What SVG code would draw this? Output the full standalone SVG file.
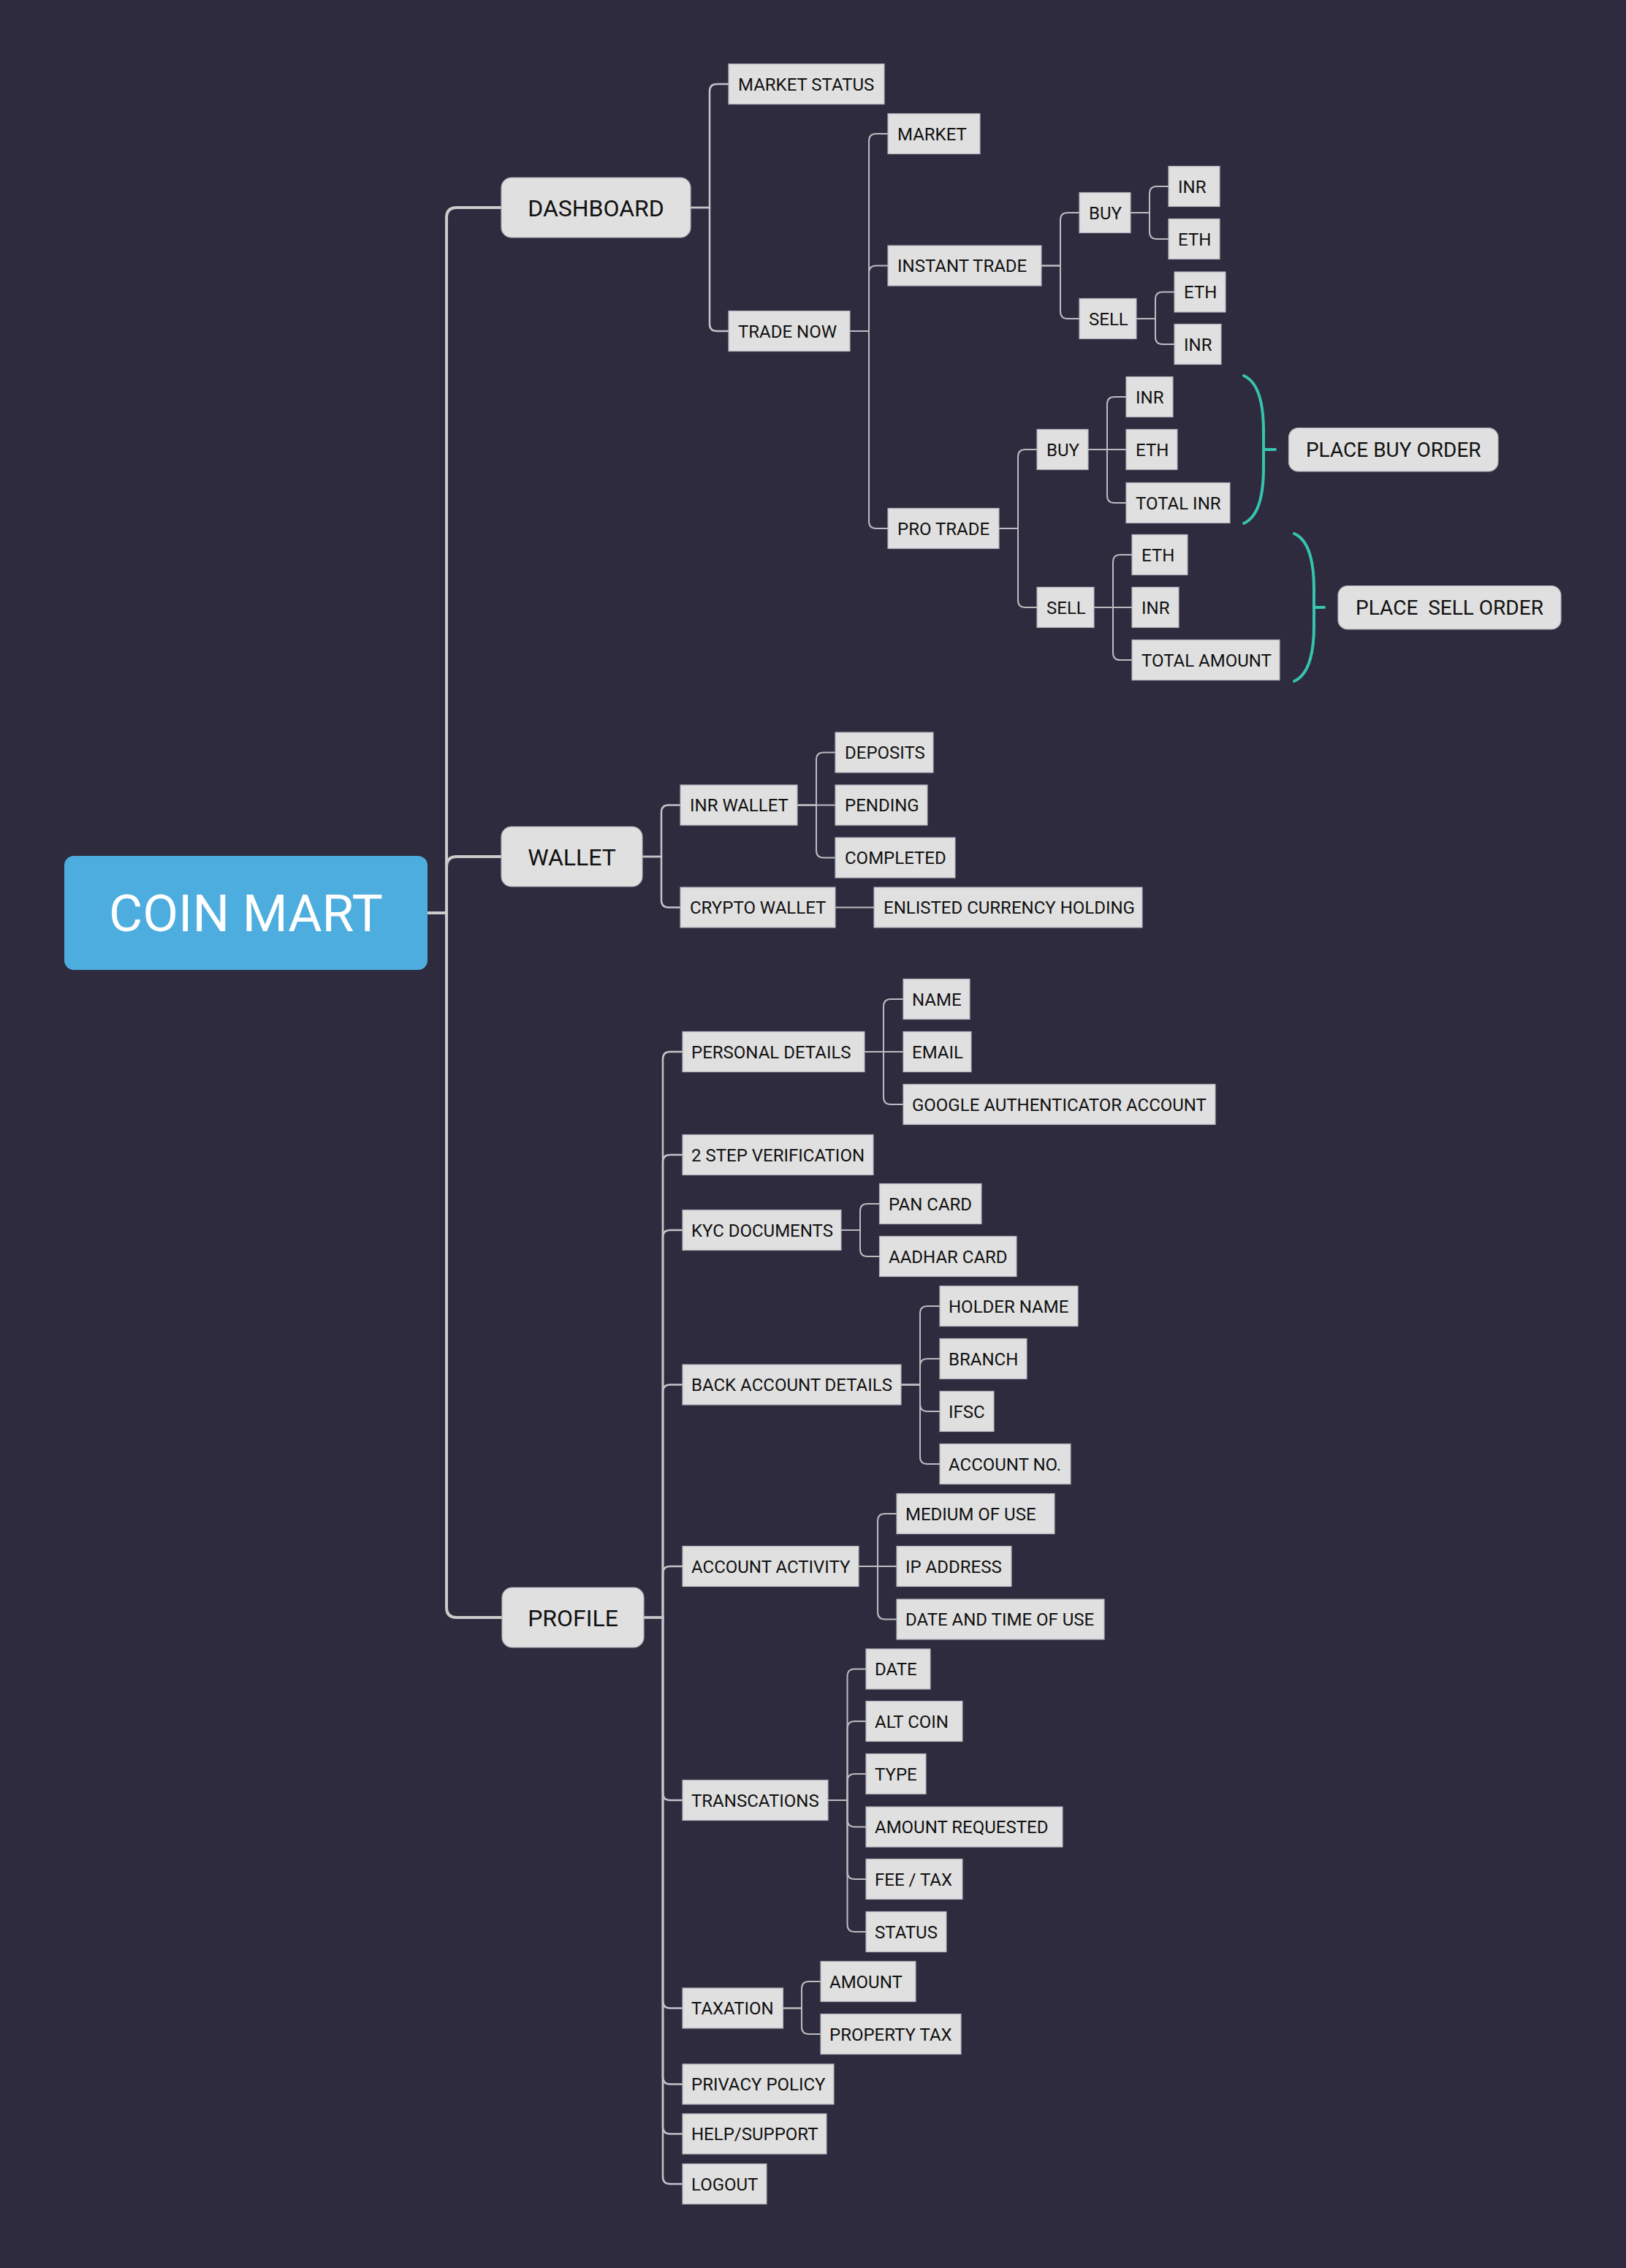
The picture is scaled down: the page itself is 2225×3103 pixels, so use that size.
<svg xmlns="http://www.w3.org/2000/svg" width="2225" height="3103" viewBox="0 0 2225 3103">
<style>
.bg{fill:#2e2b3e}
.root rect{fill:#4eaddf}
.root text{fill:#ffffff;font-family:Roboto,'Liberation Sans',sans-serif;font-size:71px;text-anchor:middle}
.main rect{fill:#e0e0e0;stroke:#b0b0ba;stroke-width:1.2}
.main text{fill:#111111;font-family:Roboto,'Liberation Sans',sans-serif;font-size:32px;text-anchor:middle}
.leaf rect{fill:#e0e0e0;stroke:#b0b0ba;stroke-width:1.2}
.leaf text{fill:#111111;font-family:Roboto,'Liberation Sans',sans-serif;font-size:24px}
.order rect{fill:#e0e0e0;stroke:#b0b0ba;stroke-width:1.2}
.order text{fill:#111111;font-family:Roboto,'Liberation Sans',sans-serif;font-size:28px;text-anchor:middle;white-space:pre}
.e0{fill:none;stroke:#cbcbcb;stroke-width:4}
.e1{fill:none;stroke:#c4c4c8;stroke-width:2.5}
.e2{fill:none;stroke:#bcbcc0;stroke-width:2}
.brace{fill:none;stroke:#36c4ae;stroke-width:4;stroke-linecap:round}
</style>
<rect class="bg" x="0" y="0" width="2225" height="3103"/>

<g id="connectors">
  <path class="e0" d="M585 1249 H611 V298 Q611 284 625 284 H686"/>
  <path class="e0" d="M585 1249 H611 V1186 Q611 1172 625 1172 H686"/>
  <path class="e0" d="M585 1249 H611 V2199 Q611 2213 625 2213 H687"/>

  <path class="e1" d="M945 284 H971 V125 Q971 115 981 115 H997"/>
  <path class="e1" d="M945 284 H971 V443 Q971 453 981 453 H997"/>

  <path class="e2" d="M1163 453 H1189 V193 Q1189 183 1199 183 H1215"/>
  <path class="e2" d="M1163 453 H1189 V373.5 Q1189 363.5 1199 363.5 H1215"/>
  <path class="e2" d="M1163 453 H1189 V713 Q1189 723 1199 723 H1215"/>

  <path class="e2" d="M1425 363.5 H1451 V301 Q1451 291 1461 291 H1477"/>
  <path class="e2" d="M1425 363.5 H1451 V426 Q1451 436 1461 436 H1477"/>
  <path class="e2" d="M1547 291 H1573 V265 Q1573 255 1583 255 H1599"/>
  <path class="e2" d="M1547 291 H1573 V317 Q1573 327 1583 327 H1599"/>
  <path class="e2" d="M1555 436 H1581 V409.5 Q1581 399.5 1591 399.5 H1607"/>
  <path class="e2" d="M1555 436 H1581 V461 Q1581 471 1591 471 H1607"/>

  <path class="e2" d="M1367 723 H1393 V625 Q1393 615 1403 615 H1419"/>
  <path class="e2" d="M1367 723 H1393 V821 Q1393 831 1403 831 H1419"/>
  <path class="e2" d="M1489 615 H1515 V553 Q1515 543 1525 543 H1541"/>
  <path class="e2" d="M1489 615 H1541"/>
  <path class="e2" d="M1489 615 H1515 V678 Q1515 688 1525 688 H1541"/>
  <path class="e2" d="M1497 831 H1523 V769 Q1523 759 1533 759 H1549"/>
  <path class="e2" d="M1497 831 H1549"/>
  <path class="e2" d="M1497 831 H1523 V893 Q1523 903 1533 903 H1549"/>

  <path class="e1" d="M879 1172 H905 V1111.5 Q905 1101.5 915 1101.5 H931"/>
  <path class="e1" d="M879 1172 H905 V1231.5 Q905 1241.5 915 1241.5 H931"/>
  <path class="e2" d="M1091 1101.5 H1117 V1039.5 Q1117 1029.5 1127 1029.5 H1143"/>
  <path class="e2" d="M1091 1101.5 H1143"/>
  <path class="e2" d="M1091 1101.5 H1117 V1163.5 Q1117 1173.5 1127 1173.5 H1143"/>
  <path class="e2" d="M1143 1241.5 H1196"/>

  <path class="e1" d="M881 2213 H907 V1449 Q907 1439 917 1439 H934"/>
  <path class="e1" d="M881 2213 H907 V1590 Q907 1580 917 1580 H934"/>
  <path class="e1" d="M881 2213 H907 V1693 Q907 1683 917 1683 H934"/>
  <path class="e1" d="M881 2213 H907 V1904.5 Q907 1894.5 917 1894.5 H934"/>
  <path class="e1" d="M881 2213 H907 V2153 Q907 2143 917 2143 H934"/>
  <path class="e1" d="M881 2213 H907 V2453 Q907 2463 917 2463 H934"/>
  <path class="e1" d="M881 2213 H907 V2737.5 Q907 2747.5 917 2747.5 H934"/>
  <path class="e1" d="M881 2213 H907 V2841.5 Q907 2851.5 917 2851.5 H934"/>
  <path class="e1" d="M881 2213 H907 V2909.5 Q907 2919.5 917 2919.5 H934"/>
  <path class="e1" d="M881 2213 H907 V2978 Q907 2988 917 2988 H934"/>

  <path class="e2" d="M1183 1439 H1209 V1377 Q1209 1367 1219 1367 H1236"/>
  <path class="e2" d="M1183 1439 H1236"/>
  <path class="e2" d="M1183 1439 H1209 V1501 Q1209 1511 1219 1511 H1236"/>

  <path class="e2" d="M1151 1683 H1177 V1657 Q1177 1647 1187 1647 H1203.5"/>
  <path class="e2" d="M1151 1683 H1177 V1709 Q1177 1719 1187 1719 H1203.5"/>

  <path class="e2" d="M1233 1894.5 H1259 V1797 Q1259 1787 1269 1787 H1286"/>
  <path class="e2" d="M1233 1894.5 H1259 V1869 Q1259 1859 1269 1859 H1286"/>
  <path class="e2" d="M1233 1894.5 H1259 V1921 Q1259 1931 1269 1931 H1286"/>
  <path class="e2" d="M1233 1894.5 H1259 V1993 Q1259 2003 1269 2003 H1286"/>

  <path class="e2" d="M1175 2143 H1201 V2081 Q1201 2071 1211 2071 H1227"/>
  <path class="e2" d="M1175 2143 H1227"/>
  <path class="e2" d="M1175 2143 H1201 V2205.5 Q1201 2215.5 1211 2215.5 H1227"/>

  <path class="e2" d="M1133 2463 H1159.5 V2293.5 Q1159.5 2283.5 1169.5 2283.5 H1185"/>
  <path class="e2" d="M1133 2463 H1159.5 V2365 Q1159.5 2355 1169.5 2355 H1185"/>
  <path class="e2" d="M1133 2463 H1159.5 V2437 Q1159.5 2427 1169.5 2427 H1185"/>
  <path class="e2" d="M1133 2463 H1159.5 V2489.5 Q1159.5 2499.5 1169.5 2499.5 H1185"/>
  <path class="e2" d="M1133 2463 H1159.5 V2561 Q1159.5 2571 1169.5 2571 H1185"/>
  <path class="e2" d="M1133 2463 H1159.5 V2633 Q1159.5 2643 1169.5 2643 H1185"/>

  <path class="e2" d="M1071.5 2747.5 H1097 V2721 Q1097 2711 1107 2711 H1123"/>
  <path class="e2" d="M1071.5 2747.5 H1097 V2773 Q1097 2783 1107 2783 H1123"/>

  <path class="brace" d="M1702 514 Q1729 526 1729 590 L1729 640 Q1729 704 1702 716"/>
  <path class="brace" d="M1729 615 H1745"/>
  <path class="brace" d="M1771 730 Q1798 742 1798 806 L1798 856 Q1798 920 1771 932"/>
  <path class="brace" d="M1798 831 H1812"/>
</g>

<g id="coin-mart" class="root"><rect x="88" y="1171" width="497" height="156" rx="13"/><text x="336.5" y="1274">COIN MART</text></g>

<g id="dashboard" class="main"><rect x="686" y="243" width="259" height="82" rx="14"/><text x="815.5" y="295.5">DASHBOARD</text></g>
<g id="wallet" class="main"><rect x="686" y="1131" width="193" height="82" rx="14"/><text x="782.5" y="1183.5">WALLET</text></g>
<g id="profile" class="main"><rect x="687" y="2172" width="194" height="82" rx="14"/><text x="784" y="2224.5">PROFILE</text></g>

<g id="place-buy-order" class="order"><rect x="1763.5" y="585.5" width="286.5" height="59.5" rx="13"/><text x="1906.75" y="625">PLACE BUY ORDER</text></g>
<g id="place-sell-order" class="order"><rect x="1831" y="801.5" width="305" height="59.5" rx="13"/><text x="1983.5" y="841" xml:space="preserve">PLACE  SELL ORDER</text></g>

<g id="market-status" class="leaf"><rect x="997" y="87.5" width="213" height="55"/><text x="1010" y="123.5">MARKET STATUS</text></g>
<g id="trade-now" class="leaf"><rect x="997" y="425.5" width="166" height="55"/><text x="1010" y="461.5">TRADE NOW</text></g>
<g id="market" class="leaf"><rect x="1215" y="155.5" width="126" height="55"/><text x="1228" y="191.5">MARKET</text></g>
<g id="instant-trade" class="leaf"><rect x="1215" y="336" width="210" height="55"/><text x="1228" y="372">INSTANT TRADE</text></g>
<g id="pro-trade" class="leaf"><rect x="1215" y="695.5" width="152" height="55"/><text x="1228" y="731.5">PRO TRADE</text></g>
<g id="it-buy" class="leaf"><rect x="1477" y="263.5" width="70" height="55"/><text x="1490" y="299.5">BUY</text></g>
<g id="it-sell" class="leaf"><rect x="1477" y="408.5" width="78" height="55"/><text x="1490" y="444.5">SELL</text></g>
<g id="it-buy-inr" class="leaf"><rect x="1599" y="227.5" width="70" height="55"/><text x="1612" y="263.5">INR</text></g>
<g id="it-buy-eth" class="leaf"><rect x="1599" y="299.5" width="70" height="55"/><text x="1612" y="335.5">ETH</text></g>
<g id="it-sell-eth" class="leaf"><rect x="1607" y="372" width="70" height="55"/><text x="1620" y="408">ETH</text></g>
<g id="it-sell-inr" class="leaf"><rect x="1607" y="443.5" width="64" height="55"/><text x="1620" y="479.5">INR</text></g>
<g id="pt-buy" class="leaf"><rect x="1419" y="587.5" width="70" height="55"/><text x="1432" y="623.5">BUY</text></g>
<g id="pt-sell" class="leaf"><rect x="1419" y="803.5" width="78" height="55"/><text x="1432" y="839.5">SELL</text></g>
<g id="pt-buy-inr" class="leaf"><rect x="1541" y="515.5" width="64" height="55"/><text x="1554" y="551.5">INR</text></g>
<g id="pt-buy-eth" class="leaf"><rect x="1541" y="587.5" width="70" height="55"/><text x="1554" y="623.5">ETH</text></g>
<g id="pt-buy-total" class="leaf"><rect x="1541" y="660.5" width="142" height="55"/><text x="1554" y="696.5">TOTAL INR</text></g>
<g id="pt-sell-eth" class="leaf"><rect x="1549" y="731.5" width="76" height="55"/><text x="1562" y="767.5">ETH</text></g>
<g id="pt-sell-inr" class="leaf"><rect x="1549" y="803.5" width="64" height="55"/><text x="1562" y="839.5">INR</text></g>
<g id="pt-sell-total" class="leaf"><rect x="1549" y="875.5" width="202" height="55"/><text x="1562" y="911.5">TOTAL AMOUNT</text></g>

<g id="inr-wallet" class="leaf"><rect x="931" y="1074" width="160" height="55"/><text x="944" y="1110">INR WALLET</text></g>
<g id="crypto-wallet" class="leaf"><rect x="931" y="1214" width="212" height="55"/><text x="944" y="1250">CRYPTO WALLET</text></g>
<g id="deposits" class="leaf"><rect x="1143" y="1002" width="134" height="55"/><text x="1156" y="1038">DEPOSITS</text></g>
<g id="pending" class="leaf"><rect x="1143" y="1074" width="126" height="55"/><text x="1156" y="1110">PENDING</text></g>
<g id="completed" class="leaf"><rect x="1143" y="1146" width="164" height="55"/><text x="1156" y="1182">COMPLETED</text></g>
<g id="enlisted" class="leaf"><rect x="1196" y="1214" width="367" height="55"/><text x="1209" y="1250">ENLISTED CURRENCY HOLDING</text></g>

<g id="personal-details" class="leaf"><rect x="934" y="1411.5" width="249" height="55"/><text x="946" y="1447.5">PERSONAL DETAILS</text></g>
<g id="two-step" class="leaf"><rect x="934" y="1552.5" width="261" height="55"/><text x="946" y="1588.5">2 STEP VERIFICATION</text></g>
<g id="kyc" class="leaf"><rect x="934" y="1655.5" width="217" height="55"/><text x="946" y="1691.5">KYC DOCUMENTS</text></g>
<g id="bank" class="leaf"><rect x="934" y="1867" width="299" height="55"/><text x="946" y="1903">BACK ACCOUNT DETAILS</text></g>
<g id="activity" class="leaf"><rect x="934" y="2115.5" width="241" height="55"/><text x="946" y="2151.5">ACCOUNT ACTIVITY</text></g>
<g id="transactions" class="leaf"><rect x="934" y="2435.5" width="199" height="55"/><text x="946" y="2471.5">TRANSCATIONS</text></g>
<g id="taxation" class="leaf"><rect x="934" y="2720" width="137.5" height="55"/><text x="946" y="2756">TAXATION</text></g>
<g id="privacy" class="leaf"><rect x="934" y="2824" width="207" height="55"/><text x="946" y="2860">PRIVACY POLICY</text></g>
<g id="help" class="leaf"><rect x="934" y="2892" width="197" height="55"/><text x="946" y="2928">HELP/SUPPORT</text></g>
<g id="logout" class="leaf"><rect x="934" y="2960.5" width="115" height="55"/><text x="946" y="2996.5">LOGOUT</text></g>

<g id="name" class="leaf"><rect x="1236" y="1339.5" width="91" height="55"/><text x="1248" y="1375.5">NAME</text></g>
<g id="email" class="leaf"><rect x="1236" y="1411.5" width="93" height="55"/><text x="1248" y="1447.5">EMAIL</text></g>
<g id="google" class="leaf"><rect x="1236" y="1483.5" width="427" height="55"/><text x="1248" y="1519.5">GOOGLE AUTHENTICATOR ACCOUNT</text></g>
<g id="pan" class="leaf"><rect x="1203.5" y="1619.5" width="139.5" height="55"/><text x="1216" y="1655.5">PAN CARD</text></g>
<g id="aadhar" class="leaf"><rect x="1203.5" y="1691.5" width="187.5" height="55"/><text x="1216" y="1727.5">AADHAR CARD</text></g>
<g id="holder" class="leaf"><rect x="1286" y="1759.5" width="189" height="55"/><text x="1298" y="1795.5">HOLDER NAME</text></g>
<g id="branch" class="leaf"><rect x="1286" y="1831.5" width="119" height="55"/><text x="1298" y="1867.5">BRANCH</text></g>
<g id="ifsc" class="leaf"><rect x="1286" y="1903.5" width="74" height="55"/><text x="1298" y="1939.5">IFSC</text></g>
<g id="account-no" class="leaf"><rect x="1286" y="1975.5" width="179" height="55"/><text x="1298" y="2011.5">ACCOUNT NO.</text></g>
<g id="medium" class="leaf"><rect x="1227" y="2043.5" width="216" height="55"/><text x="1239" y="2079.5">MEDIUM OF USE</text></g>
<g id="ip" class="leaf"><rect x="1227" y="2115.5" width="157" height="55"/><text x="1239" y="2151.5">IP ADDRESS</text></g>
<g id="datetime" class="leaf"><rect x="1227" y="2188" width="284" height="55"/><text x="1239" y="2224">DATE AND TIME OF USE</text></g>
<g id="date" class="leaf"><rect x="1185" y="2256" width="88" height="55"/><text x="1197" y="2292">DATE</text></g>
<g id="altcoin" class="leaf"><rect x="1185" y="2327.5" width="132" height="55"/><text x="1197" y="2363.5">ALT COIN</text></g>
<g id="type" class="leaf"><rect x="1185" y="2399.5" width="82" height="55"/><text x="1197" y="2435.5">TYPE</text></g>
<g id="amount-requested" class="leaf"><rect x="1185" y="2472" width="269" height="55"/><text x="1197" y="2508">AMOUNT REQUESTED</text></g>
<g id="fee" class="leaf"><rect x="1185" y="2543.5" width="132" height="55"/><text x="1197" y="2579.5">FEE / TAX</text></g>
<g id="status" class="leaf"><rect x="1185" y="2615.5" width="110" height="55"/><text x="1197" y="2651.5">STATUS</text></g>
<g id="amount" class="leaf"><rect x="1123" y="2683.5" width="130" height="55"/><text x="1135" y="2719.5">AMOUNT</text></g>
<g id="property-tax" class="leaf"><rect x="1123" y="2755.5" width="192" height="55"/><text x="1135" y="2791.5">PROPERTY TAX</text></g>
</svg>
